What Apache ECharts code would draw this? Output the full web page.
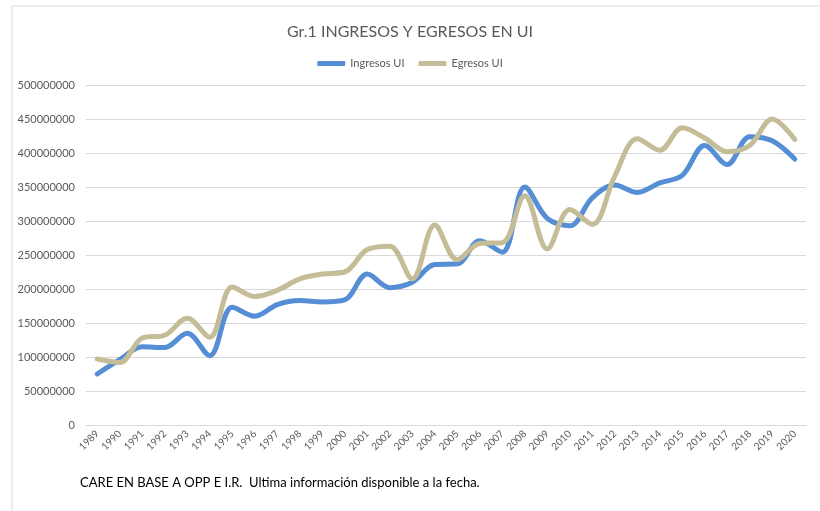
<!DOCTYPE html>
<html>
<head>
<meta charset="utf-8">
<script src="https://cdn.jsdelivr.net/npm/echarts@6/dist/echarts.min.js"></script>
<style>
html, body { margin: 0; padding: 0; background: #fff; }
#chart { width: 820px; height: 511px; }
</style>
</head>
<body>
<div id="chart"></div>
<script>
var years = ['1989', '1990', '1991', '1992', '1993', '1994', '1995', '1996', '1997', '1998',
    '1999', '2000', '2001', '2002', '2003', '2004', '2005', '2006', '2007', '2008',
    '2009', '2010', '2011', '2012', '2013', '2014', '2015', '2016', '2017', '2018',
    '2019', '2020'];

// valores (UI)
var ingresos = [75e6, 96e6, 115e6, 114e6, 135e6, 102e6, 173e6, 160e6, 177e6, 183e6,
    181e6, 184e6, 222e6, 202e6, 210e6, 236e6, 237e6, 271e6, 254e6, 350e6,
    304e6, 293e6, 334e6, 353e6, 342e6, 356e6, 367e6, 411e6, 383e6, 424e6,
    418e6, 391e6];
var egresos = [97e6, 92e6, 128e6, 132e6, 157e6, 129e6, 203e6, 189e6, 198e6, 215e6,
    222e6, 225e6, 258e6, 263e6, 215e6, 294e6, 243e6, 267e6, 268e6, 337e6,
    259e6, 317e6, 295e6, 366e6, 421e6, 404e6, 437e6, 422e6, 402e6, 411e6,
    450e6, 420e6];

var myChart = echarts.init(document.getElementById('chart'));

var option = {
    backgroundColor: '#ffffff',
    animation: false,
    title: {
        text: 'Gr.1 INGRESOS Y EGRESOS EN UI',
        left: 'center',
        top: 19,
        textStyle: { fontFamily: 'Lato', fontSize: 16, fontWeight: 'normal', color: '#595959' }
    },
    legend: {
        top: 53,
        left: 'center',
        itemWidth: 28,
        itemHeight: 5,
        itemGap: 14,
        icon: 'roundRect',
        textStyle: { fontFamily: 'Lato', fontSize: 11, color: '#595959' },
        data: ['Ingresos UI', 'Egresos UI']
    },
    grid: { left: 86, right: 14, top: 85, bottom: 86 },
    xAxis: {
        type: 'category',
        data: years,
        axisLine: { show: true, lineStyle: { color: '#d9d9d9' } },
        axisTick: { show: false },
        axisLabel: { rotate: 45, fontFamily: 'Lato', fontSize: 10, color: '#595959', margin: 7, interval: 0 }
    },
    yAxis: {
        type: 'value',
        min: 0,
        max: 500000000,
        interval: 50000000,
        axisLine: { show: false },
        axisTick: { show: false },
        axisLabel: {
            fontFamily: 'Lato', fontSize: 11, color: '#595959', margin: 11,
            formatter: function (v) { return String(v); }
        },
        splitLine: { lineStyle: { color: '#d9d9d9', width: 1 } }
    },
    graphic: [
        {
            type: 'polyline',
            shape: { points: [[12, 520], [12, 6], [830, 6]] },
            style: { stroke: '#d9d9d9', fill: null, lineWidth: 1 }
        },
        {
            type: 'text',
            left: 80,
            top: 476,
            style: {
                text: 'CARE EN BASE A OPP E I.R.  Ultima información disponible a la fecha.',
                font: '13px Lato',
                fill: '#000000'
            }
        }
    ],
    series: [
        {
            name: 'Ingresos UI',
            type: 'line',
            data: ingresos,
            smooth: 0.35,
            symbol: 'none',
            lineStyle: { width: 5, color: '#558ed5', cap: 'round' },
            itemStyle: { color: '#558ed5' }
        },
        {
            name: 'Egresos UI',
            type: 'line',
            data: egresos,
            smooth: 0.35,
            symbol: 'none',
            lineStyle: { width: 5, color: '#c4bd97', cap: 'round' },
            itemStyle: { color: '#c4bd97' }
        }
    ]
};
myChart.setOption(option);
</script>
</body>
</html>
